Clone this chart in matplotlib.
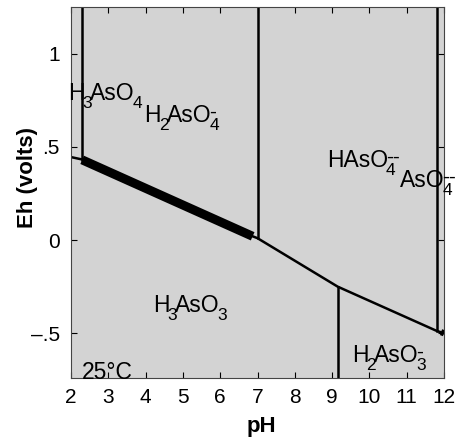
import re
import matplotlib
matplotlib.use("Agg")
import matplotlib.pyplot as plt
from matplotlib.transforms import offset_copy

plt.rcParams['font.family'] = ['Liberation Sans', 'DejaVu Sans']

# Boundary lines (pH, Eh)
left_x = [2.0, 2.3]
left_y = [0.445, 0.432]
thick_x = [2.3, 6.87]
thick_y = [0.43, 0.02]
lower_x = [6.87, 7.0, 9.15, 11.8, 12.0]
lower_y = [0.02, 0.01, -0.25, -0.487, -0.5]
blob_x = [11.92, 12.0]
blob_y = [-0.494, -0.5]
vert_x = [2.3, 7.0, 9.15, 11.8]
vert_ylo = [0.432, 0.01, -0.74, -0.487]
vert_yhi = [1.25, 1.25, -0.25, 1.25]

# Species labels (TeX-like notation, baseline-left anchored)
labels = ['H_3AsO_4', 'H_2AsO_4^-', 'HAsO_4^{--}', 'AsO_4^{--}',
          'H_3AsO_3', 'H_2AsO_3^-', '25°C']
label_x = [1.92, 3.97, 8.86, 10.82, 4.2, 9.53, 2.29]
label_y = [0.75, 0.632, 0.391, 0.284, -0.386, -0.653, -0.745]

xticks = [2, 3, 4, 5, 6, 7, 8, 9, 10, 11, 12]
yticks = [1, 0.5, 0, -0.5]
ytick_labels = ['1', '.5', '0', '\u2013.5']

W, H = 462, 440
fig = plt.figure(figsize=(W / 100, H / 100), dpi=100)
ax = fig.add_axes([71 / W, 62 / H, 373 / W, 371 / H])
ax.set_facecolor('#d3d3d3')
ax.set_xlim(2, 12)
ax.set_ylim(-0.74, 1.25)

ax.plot(left_x, left_y, color='black', lw=1.8, solid_capstyle='butt')
ax.plot(thick_x, thick_y, color='black', lw=6.5, solid_capstyle='butt')
ax.plot(lower_x, lower_y, color='black', lw=1.8)
ax.plot(blob_x, blob_y, color='black', lw=4.5, solid_capstyle='butt')
for x, lo, hi in zip(vert_x, vert_ylo, vert_yhi):
    ax.plot([x, x], [lo, hi], color='black', lw=1.8)


def parse(s):
    parts = []
    for m in re.finditer(r'_(\{[^}]*\}|.)|\^(\{[^}]*\}|.)|([^_^]+)', s):
        if m.group(1):
            parts.append((m.group(1).strip('{}'), 'sub'))
        elif m.group(2):
            parts.append((m.group(2).strip('{}'), 'sup'))
        else:
            parts.append((m.group(3), 'main'))
    return parts


renderer = fig.canvas.get_renderer()


def chem(x, y, s, size=16.5, ssize=12.5):
    dx = 0.0
    sub_start = None
    prev = None
    for txt, kind in parse(s):
        if kind == 'main':
            dy, fs = 0, size
            start = dx
        elif kind == 'sub':
            dy, fs = -8, ssize
            start = dx - 2
            sub_start = start
        else:
            dy, fs = 4, 15
            start = sub_start if prev == 'sub' else dx
        tr = offset_copy(ax.transData, fig=fig, x=start, y=dy, units='dots')
        t = ax.text(x, y, txt, fontsize=fs, transform=tr, ha='left',
                    va='baseline', clip_on=False)
        w = t.get_window_extent(renderer).width
        dx = max(dx, start + w)
        if kind == 'sub':
            dx = start + w - 2
        prev = kind


for s, x, y in zip(labels, label_x, label_y):
    chem(x, y, s)

ax.set_xticks(xticks)
ax.set_yticks(yticks)
ax.set_yticklabels(ytick_labels)
ax.tick_params(direction='in', length=4, width=0.8, labelsize=15, top=True, right=True)
ax.tick_params(axis='x', pad=7)
ax.tick_params(axis='y', pad=8)
for s in ax.spines.values():
    s.set_linewidth(0.8)
    s.set_color('#444444')

fig.text(261 / W, 1 - 426 / H, 'pH', fontsize=16, fontweight='bold',
         ha='center', va='center')
fig.text(28 / W, 1 - 178 / H, 'Eh (volts)', fontsize=16, fontweight='bold',
         ha='center', va='center', rotation=90)

fig.savefig('out.png', dpi=100)
